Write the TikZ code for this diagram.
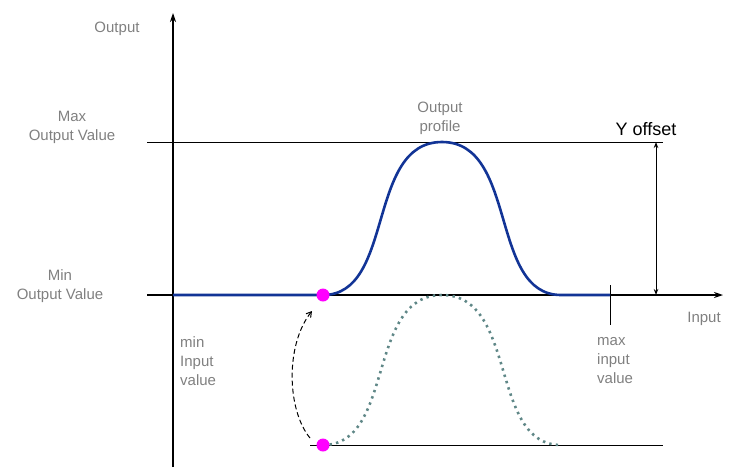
\documentclass[tikz,border=0pt]{standalone}
\usepackage{fontspec}
\setmainfont{Liberation Sans}
\usetikzlibrary{arrows.meta}
\definecolor{lbl}{RGB}{128,128,128}
\definecolor{curveblue}{RGB}{18,52,150}
\definecolor{dotgray}{RGB}{95,135,135}
\definecolor{mag}{RGB}{255,0,255}
\tikzset{
  lbltext/.style={text=lbl, inner sep=0pt, font=\fontsize{15}{19}\selectfont},
  axisline/.style={line width=1.2pt, -{Stealth[length=9pt,width=6pt,inset=3pt]}},
  thinline/.style={line width=1pt},
  profile/.style={curveblue, line width=2.6pt},
  shifted/.style={dotgray, line width=2.6pt, dash pattern=on 2.4pt off 4.2pt},
  pdot/.style={circle, fill=mag, minimum size=13pt, inner sep=0pt},
  dimarrow/.style={line width=1pt, {Stealth[length=6pt,width=4.5pt]}-{Stealth[length=6pt,width=4.5pt]}},
  movearrow/.style={line width=1pt, dash pattern=on 5pt off 3pt, -{Straight Barb[length=5pt,width=6pt]}}
}
\begin{document}
\begin{tikzpicture}[x=1pt,y=-1pt]
\useasboundingbox (0,0) rectangle (735,467);
% axes
\coordinate (yb) at (173,467);
\coordinate (yt) at (173,13);
\coordinate (xl) at (147,295);
\coordinate (xr) at (723,295);
\coordinate (ml) at (147,142);
\coordinate (mr) at (663,142);
\coordinate (bl) at (310,445);
\coordinate (br) at (663,445);
\coordinate (tkt) at (610,285);
\coordinate (tkb) at (610,325);
\coordinate (ot) at (656,142);
\coordinate (ob) at (656,295);
\draw[axisline] (yb) -- (yt);
\draw[axisline] (xl) -- (xr);
\draw[thinline] (ml) -- (mr);
\draw[thinline] (bl) -- (br);
\draw[thinline] (tkt) -- (tkb);
\draw[dimarrow] (ob) -- (ot);
% shifted (original) profile
\draw[shifted] (323,445) .. controls (395,445) and (366,295) .. (442,295)
  .. controls (518,295) and (489,445) .. (561,445);
% output profile
\draw[profile] (173,295) -- (323,295) .. controls (395,295) and (366,142) .. (442,142)
  .. controls (518,142) and (489,295) .. (561,295) -- (610,295);
% dots
\node[pdot] (dtop) at (323,295) {};
\node[pdot] (dbot) at (323,445) {};
\coordinate (ms) at (310,438);
\coordinate (me) at (312,311);
\draw[movearrow] (ms) .. controls (287,410) and (285,345) .. (me);
% labels
\node[lbltext] (lout) at (117,29) {Output};
\node[lbltext, align=center] (lmax) at (72,127.5) {Max\\Output Value};
\node[lbltext, align=center] (lmin) at (60,286.5) {Min\\Output Value};
\node[lbltext, align=center] (lprof) at (440,118.5) {Output\\profile};
\node[inner sep=0pt, font=\fontsize{18}{19}\selectfont] (lyoff) at (646,129) {Y offset};
\node[lbltext, align=left, anchor=west] (lminin) at (180,361) {min\\Input\\value};
\node[lbltext, align=left, anchor=west] (lmaxin) at (597,361) {max\\input\\value};
\node[lbltext] (linput) at (704,319) {Input};
\end{tikzpicture}
\end{document}
